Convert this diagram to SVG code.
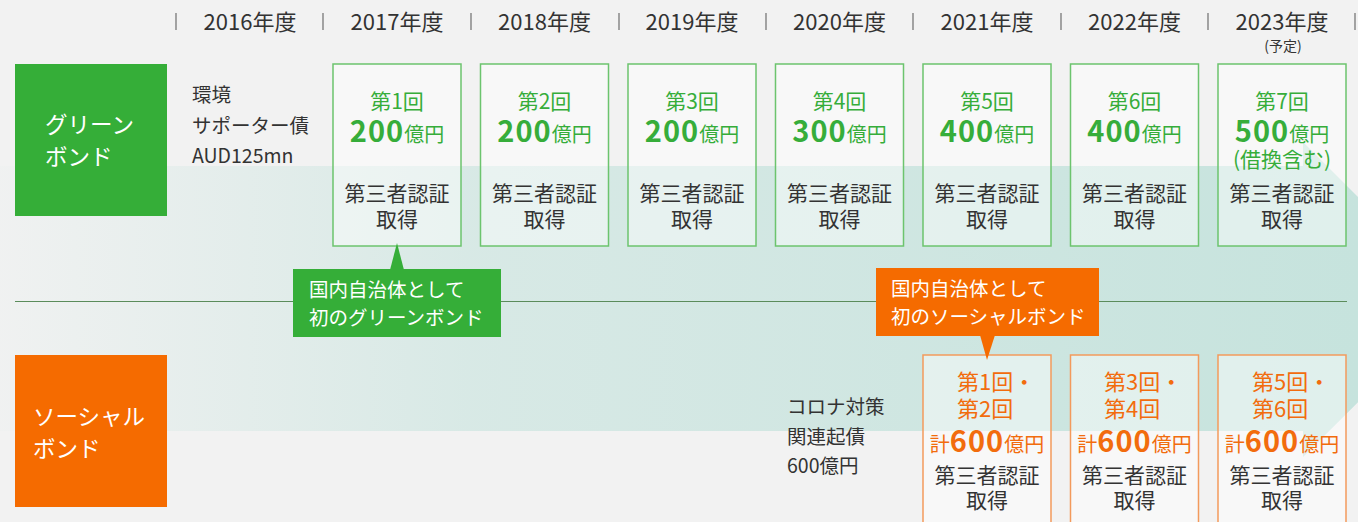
<svg xmlns="http://www.w3.org/2000/svg" width="1358" height="522" viewBox="0 0 1358 522">
<defs>
<linearGradient id="band" x1="0" y1="0" x2="1358" y2="0" gradientUnits="userSpaceOnUse">
<stop offset="0" stop-color="#c6e3dd" stop-opacity="0.05"/>
<stop offset="0.35" stop-color="#c6e3dd" stop-opacity="0.6"/>
<stop offset="1" stop-color="#c6e3dd" stop-opacity="1"/>
</linearGradient>
<style>
text{font-family:"Noto Sans CJK JP","Noto Sans",sans-serif;}
.yr{font-size:22px;fill:#333;text-anchor:middle;}
.sep{stroke:#777;stroke-width:1.3;}
.gbox{fill:#ffffff;fill-opacity:0.45;stroke:#6cc46e;stroke-width:1.5;}
.obox{fill:#ffffff;fill-opacity:0.45;stroke:#f39a5c;stroke-width:1.5;}
.gt{fill:#36ad3a;text-anchor:middle;font-size:21px;}
.ot{fill:#f26c0d;font-size:22px;}
.otc{fill:#f26c0d;text-anchor:middle;font-size:20px;}
.big{font-size:29px;font-weight:bold;letter-spacing:1px;}
.dk{fill:#333;text-anchor:middle;font-size:21px;}
.lt{fill:#333;font-size:19.5px;}
.wt{fill:#fff;font-size:22.5px;}
.ct{fill:#fff;font-size:19.5px;}
</style>
</defs>
<rect x="0" y="0" width="1358" height="522" fill="#f2f2f2"/>
<polygon points="0,166 1303,166 1303,142 1461,300 1303,457 1303,431 0,431" fill="url(#band)"/>

<g id="header">
<line class="sep" x1="176" y1="13" x2="176" y2="30"/>
<line class="sep" x1="323" y1="13" x2="323" y2="30"/>
<line class="sep" x1="471" y1="13" x2="471" y2="30"/>
<line class="sep" x1="619" y1="13" x2="619" y2="30"/>
<line class="sep" x1="766" y1="13" x2="766" y2="30"/>
<line class="sep" x1="913" y1="13" x2="913" y2="30"/>
<line class="sep" x1="1061" y1="13" x2="1061" y2="30"/>
<line class="sep" x1="1208" y1="13" x2="1208" y2="30"/>
<line class="sep" x1="1355" y1="13" x2="1355" y2="30"/>
<text class="yr" x="250" y="30">2016年度</text>
<text class="yr" x="397" y="30">2017年度</text>
<text class="yr" x="544.5" y="30">2018年度</text>
<text class="yr" x="692" y="30">2019年度</text>
<text class="yr" x="839.5" y="30">2020年度</text>
<text class="yr" x="987" y="30">2021年度</text>
<text class="yr" x="1134.5" y="30">2022年度</text>
<text class="yr" x="1282" y="30">2023年度</text>
<text x="1283" y="51" style="font-size:14px;fill:#333;text-anchor:middle">(予定)</text>
</g>

<g id="connectors">
<line x1="15" y1="301.5" x2="1347" y2="301.5" stroke="#5b8c5b" stroke-width="1.2"/>
</g>

<g id="green-label">
<rect x="15" y="64" width="152" height="152" fill="#35ae38"/>
<text class="wt" x="45" y="133">グリーン</text>
<text class="wt" x="45" y="165">ボンド</text>
</g>

<g id="green-note">
<text class="lt" x="192" y="102">環境</text>
<text class="lt" x="192" y="133">サポーター債</text>
<text class="lt" x="192" y="163">AUD125mn</text>
</g>

<g id="g1">
<rect class="gbox" x="333" y="64" width="128" height="182"/>
<text class="gt" x="397" y="109">第1回</text>
<text class="gt" x="397" y="142"><tspan class="big">200</tspan><tspan font-size="20">億円</tspan></text>
<text class="dk" x="397" y="201">第三者認証</text>
<text class="dk" x="397" y="227">取得</text>
</g>
<g id="g2">
<rect class="gbox" x="480.5" y="64" width="128" height="182"/>
<text class="gt" x="544.5" y="109">第2回</text>
<text class="gt" x="544.5" y="142"><tspan class="big">200</tspan><tspan font-size="20">億円</tspan></text>
<text class="dk" x="544.5" y="201">第三者認証</text>
<text class="dk" x="544.5" y="227">取得</text>
</g>
<g id="g3">
<rect class="gbox" x="628" y="64" width="128" height="182"/>
<text class="gt" x="692" y="109">第3回</text>
<text class="gt" x="692" y="142"><tspan class="big">200</tspan><tspan font-size="20">億円</tspan></text>
<text class="dk" x="692" y="201">第三者認証</text>
<text class="dk" x="692" y="227">取得</text>
</g>
<g id="g4">
<rect class="gbox" x="775.5" y="64" width="128" height="182"/>
<text class="gt" x="839.5" y="109">第4回</text>
<text class="gt" x="839.5" y="142"><tspan class="big">300</tspan><tspan font-size="20">億円</tspan></text>
<text class="dk" x="839.5" y="201">第三者認証</text>
<text class="dk" x="839.5" y="227">取得</text>
</g>
<g id="g5">
<rect class="gbox" x="923" y="64" width="128" height="182"/>
<text class="gt" x="987" y="109">第5回</text>
<text class="gt" x="987" y="142"><tspan class="big">400</tspan><tspan font-size="20">億円</tspan></text>
<text class="dk" x="987" y="201">第三者認証</text>
<text class="dk" x="987" y="227">取得</text>
</g>
<g id="g6">
<rect class="gbox" x="1070.5" y="64" width="128" height="182"/>
<text class="gt" x="1134.5" y="109">第6回</text>
<text class="gt" x="1134.5" y="142"><tspan class="big">400</tspan><tspan font-size="20">億円</tspan></text>
<text class="dk" x="1134.5" y="201">第三者認証</text>
<text class="dk" x="1134.5" y="227">取得</text>
</g>
<g id="g7">
<rect class="gbox" x="1218" y="64" width="128" height="182"/>
<text class="gt" x="1282" y="109">第7回</text>
<text class="gt" x="1282" y="142"><tspan class="big">500</tspan><tspan font-size="20">億円</tspan></text>
<text class="gt" x="1282" y="167" font-size="20">(借換含む)</text>
<text class="dk" x="1282" y="201">第三者認証</text>
<text class="dk" x="1282" y="227">取得</text>
</g>

<g id="callout-green">
<polygon points="390,270 397,243 404,270" fill="#35ae38"/>
<rect x="293" y="269" width="208" height="68" fill="#35ae38"/>
<text class="ct" x="309" y="297">国内自治体として</text>
<text class="ct" x="309" y="325">初のグリーンボンド</text>
</g>

<g id="orange-label">
<rect x="15" y="355" width="152" height="152" fill="#f56b00"/>
<text class="wt" x="33" y="425">ソーシャル</text>
<text class="wt" x="33" y="457">ボンド</text>
</g>

<g id="social-note">
<text class="lt" x="787" y="414">コロナ対策</text>
<text class="lt" x="787" y="444">関連起債</text>
<text class="lt" x="787" y="473">600億円</text>
</g>

<g id="s1">
<rect class="obox" x="923" y="355" width="128" height="180"/>
<text class="ot" x="957" y="390">第1回・</text>
<text class="ot" x="957" y="417">第2回</text>
<text class="otc" x="987" y="452">計<tspan class="big">600</tspan>億円</text>
<text class="dk" x="987" y="483">第三者認証</text>
<text class="dk" x="987" y="508">取得</text>
</g>
<g id="s2">
<rect class="obox" x="1070.5" y="355" width="128" height="180"/>
<text class="ot" x="1104" y="390">第3回・</text>
<text class="ot" x="1104" y="417">第4回</text>
<text class="otc" x="1134.5" y="452">計<tspan class="big">600</tspan>億円</text>
<text class="dk" x="1134.5" y="483">第三者認証</text>
<text class="dk" x="1134.5" y="508">取得</text>
</g>
<g id="s3">
<rect class="obox" x="1218" y="355" width="128" height="180"/>
<text class="ot" x="1252" y="390">第5回・</text>
<text class="ot" x="1252" y="417">第6回</text>
<text class="otc" x="1282" y="452">計<tspan class="big">600</tspan>億円</text>
<text class="dk" x="1282" y="483">第三者認証</text>
<text class="dk" x="1282" y="508">取得</text>
</g>

<g id="callout-orange">
<rect x="876" y="268" width="223" height="68" fill="#f56b00"/>
<polygon points="980,335 987,360 995,335" fill="#f56b00"/>
<text class="ct" x="891" y="296">国内自治体として</text>
<text class="ct" x="891" y="324">初のソーシャルボンド</text>
</g>
</svg>
